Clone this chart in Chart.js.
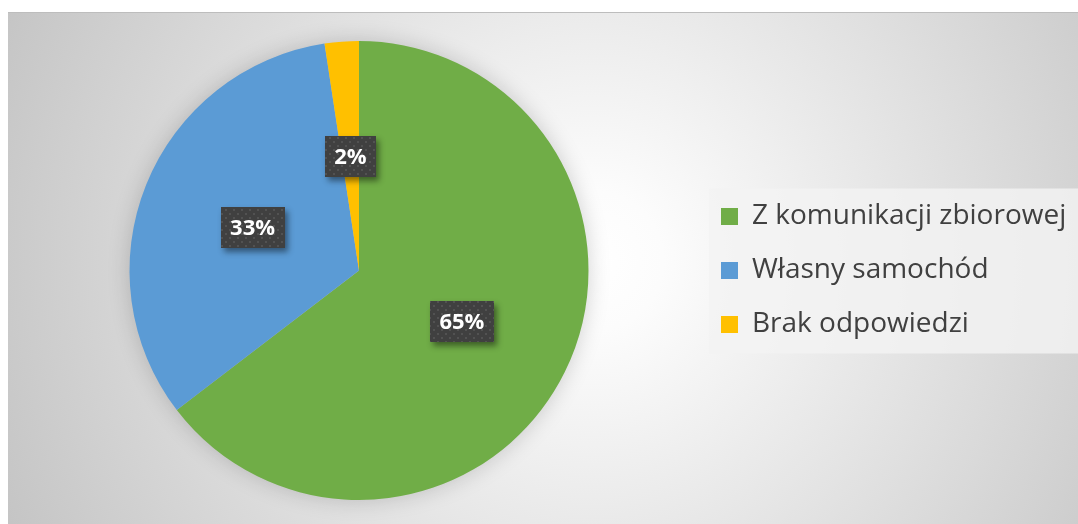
<!DOCTYPE html>
<html><head><meta charset="utf-8">
<script src="https://cdn.jsdelivr.net/npm/chart.js@4.4.1/dist/chart.umd.min.js"></script>
<style>
html,body{margin:0;padding:0;background:#fff;width:1078px;height:524px;overflow:hidden;}
#frame{position:absolute;left:8px;top:12px;width:1070px;height:512px;box-sizing:border-box;border-top:1px solid #bdbdbd;
background:radial-gradient(circle 700px at 585px 248px,#ffffff 0px,#fcfcfc 70px,#bfbfbf 700px);}
#wrap{position:absolute;left:0;top:0;width:1078px;height:524px;}
</style></head><body>
<div id="frame"></div>
<div id="wrap"><canvas id="c" width="1078" height="524"></canvas></div>
<script>
const categories = ['Z komunikacji zbiorowej', 'Własny samochód', 'Brak odpowiedzi'];
const shares = [64.6, 33.0, 2.4];
const sliceColors = ['#70AD47', '#5B9BD5', '#FFC000'];

// dotted pattern for data label boxes
const pat = document.createElement('canvas');
pat.width = 8; pat.height = 8;
(function(){
  const p = pat.getContext('2d');
  p.fillStyle = '#404040'; p.fillRect(0,0,8,8);
  p.fillStyle = '#525252';
  p.fillRect(1,1,2,2); p.fillRect(5,5,2,2);
})();

const pieShadow = {
  id: 'pieShadow',
  beforeDatasetsDraw(chart) {
    const arc = chart.getDatasetMeta(0).data[0];
    if (!arc) return;
    const ctx = chart.ctx;
    ctx.save();
    ctx.shadowColor = 'rgba(0,0,0,0.18)';
    ctx.shadowBlur = 22;
    ctx.shadowOffsetX = 10000;
    ctx.fillStyle = '#000';
    ctx.beginPath();
    ctx.arc(arc.x - 10000, arc.y, arc.outerRadius, 0, Math.PI * 2);
    ctx.fill();
    ctx.restore();
  }
};

const legendBg = {
  id: 'legendBg',
  beforeDraw(chart) {
    const lg = chart.legend;
    if (!lg || !lg.legendHitBoxes || !lg.legendHitBoxes.length) return;
    const hb = lg.legendHitBoxes;
    const first = hb[0], last = hb[hb.length - 1];
    let maxRight = 0;
    hb.forEach(h => { maxRight = Math.max(maxRight, h.left + h.width); });
    const x0 = first.left - 12, y0 = first.top - 14;
    const x1 = maxRight + 12, y1 = last.top + last.height + 15;
    const ctx = chart.ctx;
    ctx.save();
    ctx.fillStyle = 'rgba(243,243,243,0.82)';
    ctx.fillRect(x0, y0, x1 - x0, y1 - y0);
    ctx.restore();
  }
};

const labelBoxes = {
  id: 'labelBoxes',
  afterDatasetsDraw(chart) {
    const meta = chart.getDatasetMeta(0);
    const ctx = chart.ctx;
    ctx.save();
    ctx.font = 'bold 22px "Open Sans"';
    meta.data.forEach((arc, i) => {
      const mid = (arc.startAngle + arc.endAngle) / 2;
      const r = arc.outerRadius * 0.5;
      const px = arc.x + Math.cos(mid) * r;
      const py = arc.y + Math.sin(mid) * r;
      const text = Math.round(shares[i]) + '%';
      const w = Math.round(ctx.measureText(text).width + 19);
      const h = 41;
      const bx = Math.round(px - w / 2), by = Math.round(py - h / 2);
      ctx.save();
      ctx.shadowColor = 'rgba(0,0,0,0.45)';
      ctx.shadowBlur = 6;
      ctx.shadowOffsetX = 3;
      ctx.shadowOffsetY = 4;
      ctx.fillStyle = '#404040';
      ctx.fillRect(bx, by, w, h);
      ctx.restore();
      ctx.fillStyle = ctx.createPattern(pat, 'repeat');
      ctx.fillRect(bx, by, w, h);
      ctx.fillStyle = '#ffffff';
      ctx.textAlign = 'center';
      ctx.textBaseline = 'middle';
      ctx.fillText(text, px, by + h / 2 + 1);
    });
    ctx.restore();
  }
};

const LEG_PAD = 26;
const chart = new Chart(document.getElementById('c'), {
  type: 'pie',
  data: {
    labels: categories,
    datasets: [{
      data: shares,
      backgroundColor: sliceColors,
      borderWidth: 0
    }]
  },
  options: {
    responsive: false,
    animation: false,
    layout: { padding: { left: 23, right: 0, top: 41, bottom: 24 } },
    plugins: {
      legend: {
        position: 'right',
        align: 'center',
        labels: {
          boxWidth: 17,
          boxHeight: 17,
          padding: LEG_PAD,
          color: '#404040',
          font: { family: '"Open Sans"', size: 28 }
        }
      },
      tooltip: { enabled: false }
    }
  },
  plugins: [legendBg, pieShadow, labelBoxes]
});

// place legend so its swatches start at x=721 and the pie centre sits at x=359
const wantLegendLeft = 721 - LEG_PAD;
chart.options.layout.padding.right = Math.max(0, 1078 - wantLegendLeft - chart.legend.width);
chart.options.layout.padding.left = 2 * 359 - wantLegendLeft;
chart.update();
</script>
</body></html>
